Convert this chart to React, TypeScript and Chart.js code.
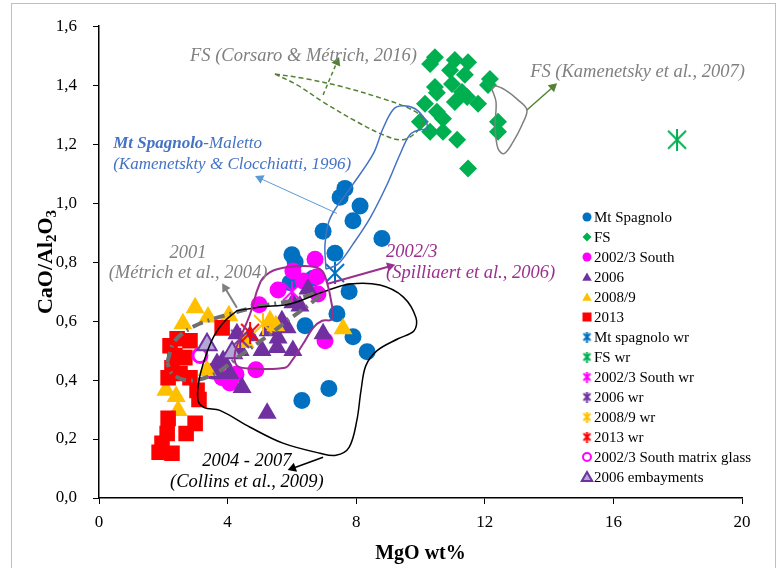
import React, { useEffect, useRef } from "react";
import { Chart, registerables } from "chart.js";
Chart.register(...registerables);

type P = [number, number];

// ---------- data (MgO wt%, CaO/Al2O3) ----------
const MT_SPAGNOLO: P[] = [
  [7.65, 1.05], [7.5, 1.02], [8.12, 0.99], [7.9, 0.94], [6.97, 0.905], [8.8, 0.88],
  [7.34, 0.83], [6.0, 0.825], [6.1, 0.8], [5.94, 0.73], [6.66, 0.745], [7.78, 0.7],
  [7.4, 0.625], [6.41, 0.584], [7.9, 0.547], [8.34, 0.496], [7.15, 0.371], [6.31, 0.331],
];
const FS: P[] = [
  [10.45, 1.495], [10.3, 1.472], [11.07, 1.485], [11.48, 1.478], [10.92, 1.451], [11.38, 1.435],
  [12.16, 1.421], [12.1, 1.401], [10.45, 1.394], [10.51, 1.374], [10.98, 1.404], [11.29, 1.377],
  [11.07, 1.343], [11.45, 1.36], [11.79, 1.337], [10.14, 1.337], [10.51, 1.31], [10.7, 1.286],
  [9.98, 1.276], [10.3, 1.242], [10.7, 1.242], [11.14, 1.215], [12.41, 1.276], [12.41, 1.242],
  [11.48, 1.117],
];
const SOUTH_2002: P[] = [
  [6.72, 0.81], [6.03, 0.77], [6.35, 0.736], [6.78, 0.75], [5.57, 0.705], [6.81, 0.692],
  [4.98, 0.655], [7.03, 0.533], [4.88, 0.435], [4.07, 0.39], [3.83, 0.408], [4.26, 0.42], [3.55, 0.43],
];
const Y2006: P[] = [
  [6.5, 0.709], [6.25, 0.651], [6.03, 0.662], [5.69, 0.601], [5.85, 0.577], [6.97, 0.557],
  [5.57, 0.543], [6.03, 0.5], [5.26, 0.567], [5.07, 0.5], [5.54, 0.51], [4.7, 0.55],
  [4.39, 0.5], [4.29, 0.557], [3.86, 0.466], [3.67, 0.456], [3.7, 0.422], [4.07, 0.422],
  [4.45, 0.375], [5.23, 0.287],
];
const Y2008: P[] = [
  [2.99, 0.645], [2.61, 0.591], [3.39, 0.614], [4.04, 0.618], [5.32, 0.601], [5.5, 0.584],
  [4.54, 0.527], [3.36, 0.432], [2.08, 0.365], [2.4, 0.344], [2.46, 0.297], [7.59, 0.574],
];
const Y2013: P[] = [
  [3.83, 0.577], [2.43, 0.54], [2.83, 0.533], [2.36, 0.483], [2.27, 0.442], [2.52, 0.422],
  [2.15, 0.408], [2.83, 0.408], [3.05, 0.365], [3.11, 0.334], [2.15, 0.27], [2.99, 0.253],
  [2.12, 0.219], [2.71, 0.219], [1.96, 0.186], [1.87, 0.155], [2.27, 0.152], [2.21, 0.516],
  [2.67, 0.476],
];
const MT_SPAGNOLO_WR: P[] = [[7.34, 0.763]];
const FS_WR: P[] = [[17.98, 1.215]];
const SOUTH_2002_WR: P[] = [[6.0, 0.7]];
const WR_2006: P[] = [[4.39, 0.54]];
const WR_2008: P[] = [[5.1, 0.59]];
const WR_2013: P[] = [[4.7, 0.56]];
const MATRIX_GLASS: P[] = [[3.14, 0.483]];
const EMBAYMENTS: P[] = [[3.36, 0.52], [4.14, 0.493]];

// ---------- literature fields (outlines) ----------
const FIELD_MT_SPAGNOLO: P[] = [
  [7.06, 0.776], [7.03, 0.861], [7.19, 0.949], [7.81, 1.05], [8.52, 1.165], [8.83, 1.252],
  [9.14, 1.316], [9.42, 1.33], [9.83, 1.32], [10.14, 1.283], [10.2, 1.252], [9.98, 1.249],
  [9.67, 1.232], [9.36, 1.165], [8.96, 1.063], [8.43, 0.949], [7.9, 0.861], [7.43, 0.793], [7.06, 0.776],
];
const FIELD_FS_CORSARO: P[] = [
  [5.47, 1.438], [6.47, 1.421], [7.59, 1.394], [8.83, 1.354], [9.67, 1.32], [10.08, 1.286],
  [9.98, 1.252], [9.46, 1.215], [8.83, 1.232], [8.02, 1.276], [6.97, 1.343], [6.16, 1.401], [5.47, 1.438],
];
const FIELD_FS_KAMENETSKY: P[] = [
  [12.22, 1.387], [12.35, 1.343], [12.32, 1.259], [12.41, 1.185], [12.6, 1.168], [12.88, 1.208],
  [13.16, 1.266], [13.31, 1.316], [13.03, 1.35], [12.63, 1.384], [12.32, 1.397], [12.22, 1.387],
];
const FIELD_SPILLIAERT: P[] = [
  [4.91, 0.702], [5.1, 0.746], [5.54, 0.776], [6.56, 0.786], [6.94, 0.77], [7.12, 0.719],
  [7.22, 0.668], [7.28, 0.621], [7.22, 0.604], [6.94, 0.601], [6.66, 0.577], [6.35, 0.523],
  [6.0, 0.466], [5.79, 0.442], [4.7, 0.439], [4.29, 0.449], [4.23, 0.493], [4.45, 0.557],
  [4.7, 0.624], [4.91, 0.702],
];
const FIELD_COLLINS: P[] = [
  [4.29, 0.635], [5.01, 0.648], [5.94, 0.658], [6.97, 0.699], [7.81, 0.726], [8.74, 0.722],
  [9.46, 0.682], [9.86, 0.611], [9.8, 0.567], [9.3, 0.54], [8.65, 0.5], [8.3, 0.449],
  [8.15, 0.365], [8.02, 0.263], [7.78, 0.172], [7.37, 0.145], [6.87, 0.152], [5.72, 0.186],
  [4.7, 0.24], [3.76, 0.297], [3.27, 0.307], [3.08, 0.331], [3.11, 0.398], [3.3, 0.476],
  [3.58, 0.55], [3.92, 0.601], [4.29, 0.635],
];
const FIELD_METRICH: P[] = [
  [2.12, 0.459], [2.36, 0.533], [2.99, 0.584], [4.07, 0.624], [5.01, 0.651], [5.94, 0.668],
  [6.72, 0.695], [6.94, 0.695], [6.56, 0.658], [5.94, 0.608], [5.16, 0.543], [4.39, 0.483],
  [3.61, 0.422], [2.83, 0.398], [2.3, 0.419], [2.12, 0.459],
];

// ---------- arrows ----------
const ARROW_MT_SPAGNOLO: P[] = [[7.4, 0.965], [5.01, 1.084]];
const ARROW_FS_CORSARO: P[] = [[6.97, 1.367], [7.4, 1.478]];
const ARROW_FS_KAMENETSKY: P[] = [[13.31, 1.316], [14.12, 1.394]];
const ARROW_METRICH: P[] = [[4.29, 0.645], [3.92, 0.712]];
const ARROW_SPILLIAERT: P[] = [[7.09, 0.726], [9.05, 0.786]];
const ARROW_COLLINS: P[] = [[6.97, 0.138], [6.03, 0.101]];

// ---------- colours ----------
const BLUE = "#0070C0";
const GREEN = "#00B050";
const MAGENTA = "#FF00FF";
const PURPLE = "#7030A0";
const ORANGE = "#FFC000";
const RED = "#FF0000";
const LAVENDER = "#B4A7D6";
const GRAY_TXT = "#808080";
const BLUE_TXT = "#4472C4";
const PURPLE_LINE = "#9B2F8E";
const OLIVE = "#548235";

type Kind = "circle" | "diamond" | "triangle" | "square" | "star" | "ring" | "embay";
const SERIES: { label: string; data: P[]; kind: Kind; color: string }[] = [
  { label: "Mt Spagnolo", data: MT_SPAGNOLO, kind: "circle", color: BLUE },
  { label: "FS", data: FS, kind: "diamond", color: GREEN },
  { label: "2002/3 South", data: SOUTH_2002, kind: "circle", color: MAGENTA },
  { label: "2006", data: Y2006, kind: "triangle", color: PURPLE },
  { label: "2008/9", data: Y2008, kind: "triangle", color: ORANGE },
  { label: "2013", data: Y2013, kind: "square", color: RED },
  { label: "Mt spagnolo wr", data: MT_SPAGNOLO_WR, kind: "star", color: BLUE },
  { label: "FS wr", data: FS_WR, kind: "star", color: GREEN },
  { label: "2002/3 South wr", data: SOUTH_2002_WR, kind: "star", color: MAGENTA },
  { label: "2006 wr", data: WR_2006, kind: "star", color: PURPLE },
  { label: "2008/9 wr", data: WR_2008, kind: "star", color: ORANGE },
  { label: "2013 wr", data: WR_2013, kind: "star", color: RED },
  { label: "2002/3 South matrix glass", data: MATRIX_GLASS, kind: "ring", color: MAGENTA },
  { label: "2006 embayments", data: EMBAYMENTS, kind: "embay", color: PURPLE },
];

const FIELDS: { data: P[]; color: string; width: number; dash: number[] }[] = [
  { data: FIELD_MT_SPAGNOLO, color: BLUE_TXT, width: 1.5, dash: [] },
  { data: FIELD_FS_CORSARO, color: OLIVE, width: 1.5, dash: [5, 3] },
  { data: FIELD_FS_KAMENETSKY, color: "#7F7F7F", width: 1.5, dash: [] },
  { data: FIELD_SPILLIAERT, color: PURPLE_LINE, width: 2, dash: [] },
  { data: FIELD_COLLINS, color: "#000000", width: 1.5, dash: [] },
  { data: FIELD_METRICH, color: "#6F6F6F", width: 4, dash: [11, 5, 2, 5] },
];

const ARROWS: { data: P[]; color: string; width: number; dash: number[] }[] = [
  { data: ARROW_MT_SPAGNOLO, color: "#5B9BD5", width: 1, dash: [] },
  { data: ARROW_FS_CORSARO, color: OLIVE, width: 1.5, dash: [4, 3] },
  { data: ARROW_FS_KAMENETSKY, color: OLIVE, width: 1.5, dash: [] },
  { data: ARROW_METRICH, color: "#7F7F7F", width: 2, dash: [] },
  { data: ARROW_SPILLIAERT, color: PURPLE_LINE, width: 2, dash: [] },
  { data: ARROW_COLLINS, color: "#000000", width: 1.5, dash: [] },
];

type Part = { t: string; bold?: boolean };
const ANNOTATIONS: { parts: Part[]; x: number; y: number; align: "left" | "center"; color: string; size: number }[] = [
  { parts: [{ t: "FS (Corsaro & Métrich, 2016)" }], x: 2.83, y: 1.499, align: "left", color: GRAY_TXT, size: 18.5 },
  { parts: [{ t: "FS (Kamenetsky et al., 2007)" }], x: 13.41, y: 1.445, align: "left", color: GRAY_TXT, size: 18.5 },
  { parts: [{ t: "Mt Spagnolo", bold: true }, { t: "-Maletto" }], x: 0.44, y: 1.202, align: "left", color: BLUE_TXT, size: 17 },
  { parts: [{ t: "(Kamenetskty & Clocchiatti, 1996)" }], x: 0.44, y: 1.131, align: "left", color: BLUE_TXT, size: 17 },
  { parts: [{ t: "2001" }], x: 2.77, y: 0.83, align: "center", color: GRAY_TXT, size: 18.5 },
  { parts: [{ t: "(Métrich et al., 2004)" }], x: 2.77, y: 0.763, align: "center", color: GRAY_TXT, size: 18.5 },
  { parts: [{ t: "2002/3" }], x: 8.93, y: 0.834, align: "left", color: PURPLE_LINE, size: 18.5 },
  { parts: [{ t: "(Spilliaert et al., 2006)" }], x: 8.93, y: 0.763, align: "left", color: PURPLE_LINE, size: 18.5 },
  { parts: [{ t: "2004 - 2007" }], x: 4.6, y: 0.125, align: "center", color: "#000000", size: 18.5 },
  { parts: [{ t: "(Collins et al., 2009)" }], x: 4.6, y: 0.054, align: "center", color: "#000000", size: 18.5 },
];

const SERIF = "'Liberation Serif', 'Times New Roman', serif";

function makeStar(color: string, size: number, lw: number): HTMLCanvasElement {
  const c = document.createElement("canvas");
  c.width = size;
  c.height = size;
  const g = c.getContext("2d")!;
  g.strokeStyle = color;
  g.lineWidth = lw;
  const m = lw / 2 + 1;
  g.beginPath();
  g.moveTo(m, m);
  g.lineTo(size - m, size - m);
  g.moveTo(size - m, m);
  g.lineTo(m, size - m);
  g.moveTo(size / 2, 0);
  g.lineTo(size / 2, size);
  g.stroke();
  return c;
}

function triPath(ctx: CanvasRenderingContext2D, x: number, y: number, r: number) {
  ctx.beginPath();
  for (let i = 0; i < 3; i++) {
    const a = (i * 2 * Math.PI) / 3;
    const px = x + Math.sin(a) * r;
    const py = y - Math.cos(a) * r;
    if (i === 0) ctx.moveTo(px, py);
    else ctx.lineTo(px, py);
  }
  ctx.closePath();
}

function drawLegendMarker(ctx: CanvasRenderingContext2D, kind: Kind, color: string, x: number, y: number, star: HTMLCanvasElement) {
  ctx.save();
  ctx.fillStyle = color;
  ctx.strokeStyle = color;
  switch (kind) {
    case "circle":
      ctx.beginPath();
      ctx.arc(x, y, 4.5, 0, Math.PI * 2);
      ctx.fill();
      break;
    case "diamond":
      ctx.beginPath();
      ctx.moveTo(x, y - 4.5);
      ctx.lineTo(x + 4.5, y);
      ctx.lineTo(x, y + 4.5);
      ctx.lineTo(x - 4.5, y);
      ctx.closePath();
      ctx.fill();
      break;
    case "triangle":
      triPath(ctx, x, y + 1, 5.5);
      ctx.fill();
      break;
    case "square":
      ctx.fillRect(x - 4.5, y - 4.5, 9, 9);
      break;
    case "star":
      ctx.drawImage(star, x - star.width / 2, y - star.height / 2);
      break;
    case "ring":
      ctx.lineWidth = 2;
      ctx.beginPath();
      ctx.arc(x, y, 4, 0, Math.PI * 2);
      ctx.stroke();
      break;
    case "embay":
      triPath(ctx, x, y + 1, 6);
      ctx.fillStyle = LAVENDER;
      ctx.fill();
      ctx.lineWidth = 2;
      ctx.stroke();
      break;
  }
  ctx.restore();
}

export default function App() {
  const ref = useRef<HTMLCanvasElement | null>(null);

  useEffect(() => {
    if (!ref.current) return;
    const bigStars: Record<string, HTMLCanvasElement> = {};
    const smallStars: Record<string, HTMLCanvasElement> = {};
    SERIES.forEach((s) => {
      bigStars[s.color] = makeStar(s.color, 22, 2);
      smallStars[s.color] = makeStar(s.color, 11, 2);
    });

    const datasets: any[] = [];
    SERIES.forEach((s, i) => {
      const base: any = {
        type: "scatter",
        label: s.label,
        data: s.data.map(([x, y]) => ({ x, y })),
        order: 100 - i,
        pointBorderWidth: 0,
        pointBackgroundColor: s.color,
        pointBorderColor: s.color,
      };
      if (s.kind === "circle") Object.assign(base, { pointStyle: "circle", pointRadius: 8.5 });
      if (s.kind === "diamond") Object.assign(base, { pointStyle: "rectRot", pointRadius: 9 });
      if (s.kind === "triangle") Object.assign(base, { pointStyle: "triangle", pointRadius: 11 });
      if (s.kind === "square") Object.assign(base, { pointStyle: "rect", pointRadius: 11 });
      if (s.kind === "star") Object.assign(base, { pointStyle: bigStars[s.color], pointRadius: 10 });
      if (s.kind === "ring")
        Object.assign(base, { pointStyle: "circle", pointRadius: 7, pointBackgroundColor: "rgba(0,0,0,0)", pointBorderWidth: 3 });
      if (s.kind === "embay")
        Object.assign(base, { pointStyle: "triangle", pointRadius: 11, pointBackgroundColor: LAVENDER, pointBorderWidth: 2 });
      datasets.push(base);
    });
    FIELDS.forEach((f, i) => {
      datasets.push({
        type: "scatter",
        label: "field" + i,
        data: f.data.map(([x, y]) => ({ x, y })),
        showLine: true,
        tension: 0.35,
        borderColor: f.color,
        borderWidth: f.width,
        borderDash: f.dash,
        pointRadius: 0,
        fill: false,
        order: 10,
      });
    });
    ARROWS.forEach((a, i) => {
      const n = a.data.length;
      datasets.push({
        type: "scatter",
        label: "arrow" + i,
        data: a.data.map(([x, y]) => ({ x, y })),
        showLine: true,
        borderColor: a.color,
        borderWidth: a.width,
        borderDash: a.dash,
        pointStyle: "triangle",
        pointBackgroundColor: a.color,
        pointBorderWidth: 0,
        pointRadius: (c: any) => (c.dataIndex === n - 1 ? 5.5 : 0),
        pointRotation: (c: any) => {
          const sx = c.chart.scales.x;
          const sy = c.chart.scales.y;
          const [x0, y0] = a.data[n - 2];
          const [x1, y1] = a.data[n - 1];
          const dx = sx.getPixelForValue(x1) - sx.getPixelForValue(x0);
          const dy = sy.getPixelForValue(y1) - sy.getPixelForValue(y0);
          return (Math.atan2(dx, -dy) * 180) / Math.PI;
        },
        order: 5,
      });
    });

    const framePlugin = {
      id: "frame",
      beforeDraw(chart: any) {
        const ctx = chart.ctx;
        ctx.save();
        ctx.fillStyle = "#ffffff";
        ctx.fillRect(0, 0, chart.width, chart.height);
        ctx.strokeStyle = "#bfbfbf";
        ctx.lineWidth = 1;
        ctx.strokeRect(11.5, 3.5, 764, 600);
        ctx.restore();
      },
    };

    const textPlugin = {
      id: "texts",
      afterDraw(chart: any) {
        const ctx: CanvasRenderingContext2D = chart.ctx;
        const sx = chart.scales.x;
        const sy = chart.scales.y;
        ctx.save();
        ctx.textBaseline = "middle";
        ctx.textAlign = "left";
        ANNOTATIONS.forEach((a) => {
          const px = sx.getPixelForValue(a.x);
          const py = sy.getPixelForValue(a.y);
          const fonts = a.parts.map((p) => `italic ${p.bold ? "bold " : ""}${a.size}px ${SERIF}`);
          let total = 0;
          const widths = a.parts.map((p, i) => {
            ctx.font = fonts[i];
            const w = ctx.measureText(p.t).width;
            total += w;
            return w;
          });
          let cx = a.align === "center" ? px - total / 2 : px;
          ctx.fillStyle = a.color;
          a.parts.forEach((p, i) => {
            ctx.font = fonts[i];
            ctx.fillText(p.t, cx, py);
            cx += widths[i];
          });
        });
        // legend
        ctx.font = `15px ${SERIF}`;
        SERIES.forEach((s, i) => {
          const y = 217 + i * 20;
          drawLegendMarker(ctx, s.kind, s.color, 587, y, smallStars[s.color]);
          ctx.fillStyle = "#000";
          ctx.fillText(s.label, 594, y + 1);
        });
        // x title
        ctx.fillStyle = "#000";
        ctx.font = `bold 20px ${SERIF}`;
        ctx.textAlign = "center";
        ctx.fillText("MgO wt%", (chart.chartArea.left + chart.chartArea.right) / 2, 554);
        // y title with subscripts
        ctx.translate(46, 262);
        ctx.rotate(-Math.PI / 2);
        ctx.textAlign = "left";
        const pieces: { t: string; sub: boolean }[] = [
          { t: "CaO/Al", sub: false },
          { t: "2", sub: true },
          { t: "O", sub: false },
          { t: "3", sub: true },
        ];
        const fMain = `bold 22px ${SERIF}`;
        const fSub = `bold 15px ${SERIF}`;
        let tw = 0;
        pieces.forEach((p) => {
          ctx.font = p.sub ? fSub : fMain;
          tw += ctx.measureText(p.t).width;
        });
        let cx = -tw / 2;
        pieces.forEach((p) => {
          ctx.font = p.sub ? fSub : fMain;
          ctx.fillText(p.t, cx, p.sub ? 6 : 0);
          cx += ctx.measureText(p.t).width;
        });
        ctx.restore();
      },
    };

    const tickFont = { family: SERIF, size: 17 };
    const chart = new Chart(ref.current, {
      type: "scatter",
      data: { datasets },
      options: {
        responsive: false,
        maintainAspectRatio: false,
        animation: false,
        events: [],
        layout: { padding: { left: 0, right: 41, top: 24, bottom: 0 } },
        plugins: { legend: { display: false }, tooltip: { enabled: false } },
        scales: {
          x: {
            type: "linear",
            min: 0,
            max: 20,
            ticks: { stepSize: 4, font: tickFont, color: "#000", padding: 8 },
            grid: { drawOnChartArea: false, drawTicks: true, tickLength: 6, color: "#000" },
            border: { color: "#000", width: 1.5 },
            afterFit: (s: any) => {
              s.height = 70;
            },
          },
          y: {
            type: "linear",
            min: 0,
            max: 1.6,
            ticks: {
              stepSize: 0.2,
              font: tickFont,
              color: "#000",
              padding: 16,
              callback: (v: any) => Number(v).toFixed(1).replace(".", ","),
            },
            grid: { drawOnChartArea: false, drawTicks: true, tickLength: 6, color: "#000" },
            border: { color: "#000", width: 1.5 },
            afterFit: (s: any) => {
              s.width = 99;
            },
          },
        },
      } as any,
      plugins: [framePlugin, textPlugin],
    });
    return () => chart.destroy();
  }, []);

  return (
    <div style={{ position: "fixed", left: 0, top: 0, width: 783, height: 568, background: "#fff" }}>
      <canvas ref={ref} width={783} height={568} style={{ width: 783, height: 568, display: "block" }} />
    </div>
  );
}
